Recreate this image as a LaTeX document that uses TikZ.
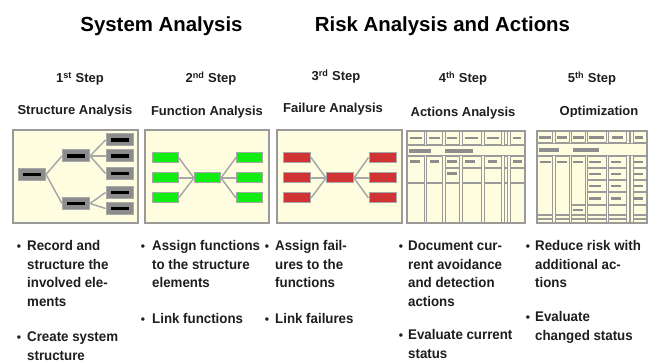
\documentclass[tikz,border=0pt]{standalone}
\usepackage{fontspec}
\setmainfont{Liberation Sans}
\newfontfamily\bodyfont[FakeStretch=0.95]{Liberation Sans}
\usetikzlibrary{calc}

\definecolor{cream}{HTML}{FEFDE0}
\definecolor{frameg}{HTML}{9A9A9A}
\definecolor{wireg}{HTML}{A8A8A8}
\definecolor{boxg}{HTML}{8C8C8C}
\definecolor{greenbox}{HTML}{11EE11}
\definecolor{redbox}{HTML}{D03333}
\definecolor{barg}{HTML}{8E8E8E}
\definecolor{inkg}{HTML}{1E1E1E}

\newcommand\txtline[4]{\node[body] (#1) at (#2,#3) {#4};}
\newcommand\bul[3]{\node[bulletmark] (#1) at (#2,#3) {\textbullet};}
% horizontal bar inside a table cell: x1, x2, y
\newcommand\cellbar[3]{\fill[barg] (#1,#3-1.4) rectangle (#2,#3+1.4);}

\begin{document}
\begin{tikzpicture}[x=1pt,y=-1pt,
  title/.style={font=\bfseries\fontsize{20.4}{24}\selectfont, anchor=base, inner sep=0pt},
  steplbl/.style={font=\bfseries\fontsize{13}{15}\selectfont, text=inkg, anchor=base, inner sep=0pt},
  body/.style={font=\bodyfont\bfseries\fontsize{14}{16}\selectfont, text=inkg, anchor=base west, inner sep=0pt},
  bulletmark/.style={font=\bfseries\fontsize{12}{14}\selectfont, text=inkg, anchor=base, inner sep=0pt},
  panel/.style={draw=frameg, fill=cream, line width=1.5pt},
  wire/.style={draw=wireg, line width=1.5pt},
  graybox/.style={rectangle, minimum width=27pt, minimum height=12pt, inner sep=0pt,
    fill=boxg, draw=wireg, line width=1pt,
    path picture={\fill[black] ($(path picture bounding box.center)+(-9,-1.6)$) rectangle ++(18,3.2);}},
  greenbox/.style={rectangle, minimum width=26pt, minimum height=10pt, inner sep=0pt,
    fill=greenbox, draw=wireg, line width=1pt},
  redbox/.style={rectangle, minimum width=27pt, minimum height=10pt, inner sep=0pt,
    fill=redbox, draw=wireg, line width=1pt},
  tline/.style={draw=frameg, line width=1.2pt},
  divider/.style={draw=frameg, line width=0.9pt, double=cream, double distance=1.3pt},
]
\useasboundingbox[fill=white] (0,0) rectangle (662,363);

% ---- headings ----
\node[title] (hsys) at (161.5,32) {System Analysis};
\node[title] (hrisk) at (442.5,32) {Risk Analysis and Actions};

\node[steplbl] (s1) at (80,83) {1\textsuperscript{st} Step};
\node[steplbl] (s2) at (211,83) {2\textsuperscript{nd} Step};
\node[steplbl] (s3) at (336,80.5) {3\textsuperscript{rd} Step};
\node[steplbl] (s4) at (463,82.5) {4\textsuperscript{th} Step};
\node[steplbl] (s5) at (592,82.5) {5\textsuperscript{th} Step};

\begin{scope}
  \clip (0,90) rectangle (140,115.6);
  \node[steplbl] (n1) at (75,115) {Structure Analysis};
\end{scope}
\node[steplbl] (n2) at (207,115.5) {Function Analysis};
\node[steplbl] (n3) at (333,112.5) {Failure Analysis};
\node[steplbl] (n4) at (463,116.5) {Actions Analysis};
\begin{scope}
  \clip (530,90) rectangle (662,116.6);
  \node[steplbl] (n5) at (599,116) {Optimization};
\end{scope}

% ---- panels ----
\draw[panel] (13,130) rectangle (138,223);
\draw[panel] (145,130) rectangle (269,223);
\draw[panel] (277,130) rectangle (402,223);
\draw[panel] (407,131) rectangle (525,223);
\draw[panel] (537,131) rectangle (647,223);

% ---- panel 1: structure tree ----
\node[graybox] (a0) at (32,174.5) {};
\node[graybox] (a1) at (76,156) {};
\node[graybox] (a2) at (76,203.5) {};
\node[graybox] (a11) at (119.5,140) {};
\node[graybox] (a12) at (119.5,156) {};
\node[graybox] (a13) at (119.5,173.5) {};
\node[graybox] (a21) at (119.5,192.5) {};
\node[graybox] (a22) at (119.5,208.5) {};
\draw[wire] (a0.east) -- (a1.west);
\draw[wire] (a0.east) -- (a2.west);
\draw[wire] (a1.east) -- (a11.west);
\draw[wire] (a1.east) -- (a12.west);
\draw[wire] (a1.east) -- (a13.west);
\draw[wire] (a2.east) -- (a21.west);
\draw[wire] (a2.east) -- (a22.west);

% ---- panel 2: functions ----
\node[greenbox] (f0) at (207.5,178) {};
\node[greenbox] (fl1) at (165,157.5) {};
\node[greenbox] (fl2) at (165,178) {};
\node[greenbox] (fl3) at (165,198) {};
\node[greenbox] (fr1) at (249.5,157.5) {};
\node[greenbox] (fr2) at (249.5,178) {};
\node[greenbox] (fr3) at (249.5,198) {};
\draw[wire] (fl1.east) -- (f0.west);
\draw[wire] (fl2.east) -- (f0.west);
\draw[wire] (fl3.east) -- (f0.west);
\draw[wire] (f0.east) -- (fr1.west);
\draw[wire] (f0.east) -- (fr2.west);
\draw[wire] (f0.east) -- (fr3.west);

% ---- panel 3: failures ----
\node[redbox] (e0) at (340,178) {};
\node[redbox] (el1) at (297,157.5) {};
\node[redbox] (el2) at (297,178) {};
\node[redbox] (el3) at (297,198) {};
\node[redbox] (er1) at (382.5,157.5) {};
\node[redbox] (er2) at (382.5,178) {};
\node[redbox] (er3) at (382.5,198) {};
\draw[wire] (el1.east) -- (e0.west);
\draw[wire] (el2.east) -- (e0.west);
\draw[wire] (el3.east) -- (e0.west);
\draw[wire] (e0.east) -- (er1.west);
\draw[wire] (e0.east) -- (er2.west);
\draw[wire] (e0.east) -- (er3.west);

% ---- panel 4: actions table ----
\draw[tline] (407,145) -- (525,145);
\draw[tline] (407,156) -- (525,156);
\draw[tline] (443,168) -- (525,168);
\draw[tline] (407,183) -- (525,183);
\foreach \x in {425.5,444,461,483,503,509}{
  \draw[divider] (\x,131) -- (\x,145);
  \draw[divider] (\x,156) -- (\x,223);
}
\cellbar{410}{422}{138}\cellbar{429}{440}{138}\cellbar{447}{457}{138}
\cellbar{465}{478}{138}\cellbar{487}{499}{138}\cellbar{513}{521}{138}
\fill[barg] (409,149) rectangle (431,153);
\fill[barg] (445,149) rectangle (473,153);
\cellbar{410}{420}{161.5}\cellbar{430}{439}{161.5}\cellbar{447}{457}{161.5}
\cellbar{465}{475}{161.5}\cellbar{488}{497}{161.5}\cellbar{513}{522}{161.5}
\cellbar{447}{457}{173.5}
\draw[panel, fill=none] (407,131) rectangle (525,223);

% ---- panel 5: optimization table ----
\draw[tline] (537,143) -- (647,143);
\draw[tline] (537,156) -- (647,156);
\draw[tline] (586.5,168) -- (647,168);
\draw[tline] (586.5,180) -- (647,180);
\draw[tline] (586.5,192) -- (647,192);
\draw[tline] (570.5,205) -- (647,205);
\draw[tline] (537,215) -- (647,215);
\draw[tline] (537,219) -- (647,219);
\foreach \x in {554,570.5,586.5,607.5,628,632}{
  \draw[divider] (\x,131) -- (\x,143);
  \draw[divider] (\x,156) -- (\x,223);
}
\cellbar{539}{551}{137.5}\cellbar{557}{567}{137.5}\cellbar{573}{584}{137.5}
\cellbar{589}{604}{137.5}\cellbar{612}{623}{137.5}\cellbar{635}{643}{137.5}
\fill[barg] (539,148) rectangle (559,152);
\fill[barg] (573,148) rectangle (599,152);
\cellbar{540}{551}{162}\cellbar{557}{567}{162}\cellbar{573}{583}{162}
\cellbar{589}{601}{162}\cellbar{611}{621}{162}\cellbar{634}{643}{162}
\foreach \y in {174,186,198.5}{
  \cellbar{589}{601}{\y}\cellbar{611}{621}{\y}\cellbar{634}{643}{\y}
}
\cellbar{573}{583}{210}
\draw[panel, fill=none] (537,131) rectangle (647,223);

% ---- descriptions ----
\bul{b11}{19}{251}
\txtline{t11}{27}{251}{Record and}
\txtline{t12}{27}{269.4}{structure the}
\txtline{t13}{27}{287.8}{involved ele-}
\txtline{t14}{27}{306.2}{ments}
\bul{b12}{19}{342}
\txtline{t15}{27}{342}{Create system}
\txtline{t16}{27}{360.4}{structure}

\bul{b21}{143}{251}
\txtline{t21}{152}{251}{Assign functions}
\txtline{t22}{152}{269.4}{to the structure}
\txtline{t23}{152}{287.8}{elements}
\bul{b22}{143}{324}
\txtline{t24}{152}{324}{Link functions}

\bul{b31}{267}{251}
\txtline{t31}{275}{251}{Assign fail-}
\txtline{t32}{275}{269.4}{ures to the}
\txtline{t33}{275}{287.8}{functions}
\bul{b32}{267}{324}
\txtline{t34}{275}{324}{Link failures}

\bul{b41}{401}{251}
\txtline{t41}{408}{251}{Document cur-}
\txtline{t42}{408}{269.4}{rent avoidance}
\txtline{t43}{408}{287.8}{and detection}
\txtline{t44}{408}{306.2}{actions}
\bul{b42}{401}{340}
\txtline{t45}{408}{340}{Evaluate current}
\txtline{t46}{408}{358.4}{status}

\bul{b51}{528}{251}
\txtline{t51}{535}{251}{Reduce risk with}
\txtline{t52}{535}{269.4}{additional ac-}
\txtline{t53}{535}{287.8}{tions}
\bul{b52}{528}{322}
\txtline{t54}{535}{322}{Evaluate}
\txtline{t55}{535}{340.4}{changed status}
\end{tikzpicture}
\end{document}
